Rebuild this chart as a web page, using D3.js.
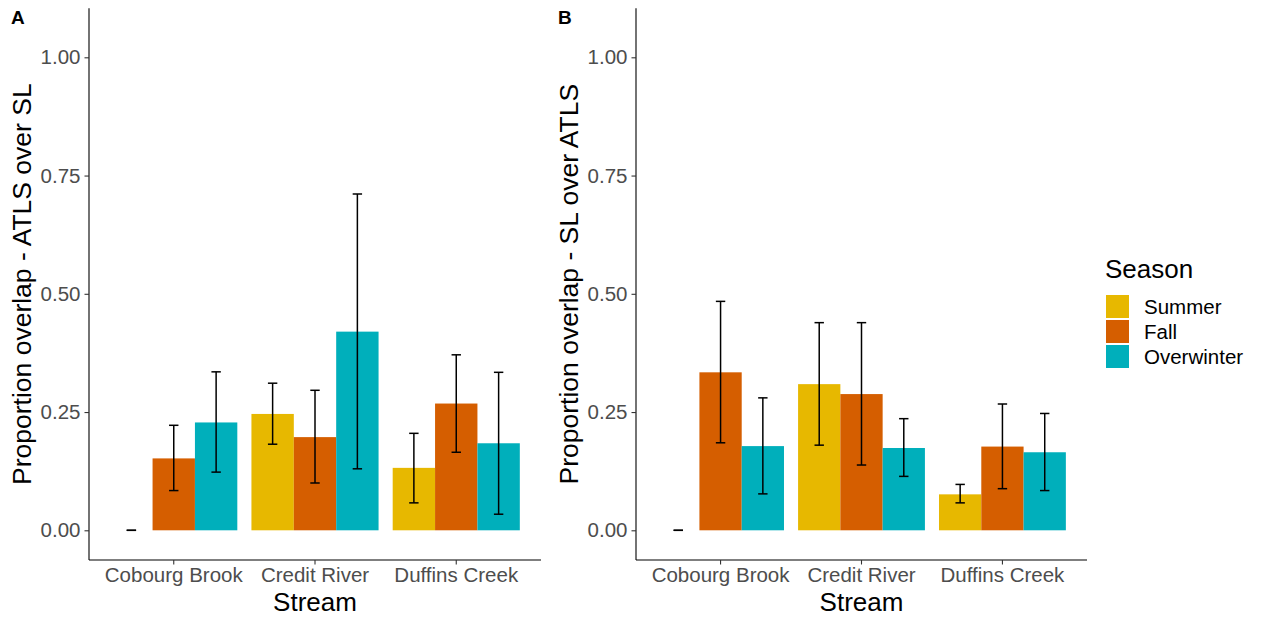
<!DOCTYPE html>
<html>
<head>
<meta charset="utf-8">
<script src="https://cdn.jsdelivr.net/npm/d3@7"></script>
<style>
  body { margin: 0; background: #fff; }
  svg { font-family: "Liberation Sans", Arial, sans-serif; }
</style>
</head>
<body>
<div id="chart"></div>
<script>
const streams = ['Cobourg Brook', 'Credit River', 'Duffins Creek'];
const seasons = ['Summer', 'Fall', 'Overwinter'];
const seasonColors = ['#E7B800', '#D55E00', '#00AFBB'];

// panel A: ATLS over SL  (rows = stream, cols = season)
const meanA = [[0, 0.152, 0.228], [0.246, 0.197, 0.420], [0.132, 0.268, 0.184]];
const lowA  = [[0, 0.084, 0.123], [0.182, 0.100, 0.130], [0.058, 0.165, 0.034]];
const highA = [[0, 0.222, 0.335], [0.311, 0.296, 0.711], [0.205, 0.371, 0.334]];

// panel B: SL over ATLS
const meanB = [[0, 0.334, 0.178], [0.309, 0.288, 0.174], [0.076, 0.177, 0.165]];
const lowB  = [[0, 0.185, 0.077], [0.180, 0.138, 0.114], [0.058, 0.088, 0.084]];
const highB = [[0, 0.484, 0.280], [0.439, 0.439, 0.236], [0.097, 0.267, 0.247]];

const yTicks = [0, 0.25, 0.5, 0.75, 1];

const W = 1262, H = 618;
const svg = d3.select('#chart').append('svg')
  .attr('width', W).attr('height', H);

const panels = [
  {tag: 'A', x0: 89, x1: 541, mean: meanA, low: lowA, high: highA,
   ytitle: 'Proportion overlap - ATLS over SL'},
  {tag: 'B', x0: 636, x1: 1087, mean: meanB, low: lowB, high: highB,
   ytitle: 'Proportion overlap - SL over ATLS'}
];

const yTop = 8.3, yBottom = 560;

panels.forEach(p => {
  const g = svg.append('g');
  const y = d3.scaleLinear().domain([-0.0628, 1.1036]).range([yBottom, yTop]);
  const x = d3.scaleBand().domain(streams).range([p.x0, p.x1])
    .paddingInner(0.1).paddingOuter(0.15);
  const xs = d3.scaleBand().domain(seasons).range([0, x.bandwidth()]);

  const rows = [];
  streams.forEach((s, i) => seasons.forEach((se, j) => {
    rows.push({stream: s, season: se, j: j,
      v: p.mean[i][j], lo: p.low[i][j], hi: p.high[i][j]});
  }));

  // bars
  g.selectAll('rect.bar').data(rows.filter(d => d.v > 0)).enter()
    .append('rect').attr('class', 'bar')
    .attr('x', d => x(d.stream) + xs(d.season))
    .attr('width', xs.bandwidth())
    .attr('y', d => y(d.v))
    .attr('height', d => y(0) - y(d.v))
    .attr('fill', d => seasonColors[d.j]);

  // error bars
  const cap = 4.7;
  const eb = g.selectAll('g.eb').data(rows).enter().append('g')
    .attr('stroke', '#000').attr('stroke-width', 1.5)
    .attr('transform', d => `translate(${x(d.stream) + xs(d.season) + xs.bandwidth() / 2},0)`);
  eb.append('line').attr('x1', 0).attr('x2', 0)
    .attr('y1', d => y(d.lo)).attr('y2', d => y(d.hi));
  eb.append('line').attr('x1', -cap).attr('x2', cap)
    .attr('y1', d => y(d.lo)).attr('y2', d => y(d.lo));
  eb.append('line').attr('x1', -cap).attr('x2', cap)
    .attr('y1', d => y(d.hi)).attr('y2', d => y(d.hi));

  // axes
  const ya = g.append('g').attr('transform', `translate(${p.x0},0)`)
    .call(d3.axisLeft(y).tickValues(yTicks).tickFormat(d3.format('.2f')).tickSize(4.5).tickPadding(4));
  ya.select('.domain').attr('d', `M0,${yTop}V${yBottom}`).attr('stroke', '#000').attr('stroke-width', 1.1);
  ya.selectAll('.tick line').attr('stroke', '#333').attr('stroke-width', 1.1);
  ya.selectAll('.tick text').attr('fill', '#4D4D4D').attr('font-size', 20.5)
    .attr('font-family', '"Liberation Sans", Arial, sans-serif');

  const xa = g.append('g').attr('transform', `translate(0,${yBottom})`)
    .call(d3.axisBottom(x).tickSize(4.5).tickPadding(3));
  xa.select('.domain').attr('d', `M${p.x0},0H${p.x1}`).attr('stroke', '#000').attr('stroke-width', 1.1);
  xa.selectAll('.tick line').attr('stroke', '#333').attr('stroke-width', 1.1);
  xa.selectAll('.tick text').attr('fill', '#4D4D4D').attr('font-size', 20.5)
    .attr('font-family', '"Liberation Sans", Arial, sans-serif');

  // titles
  g.append('text').attr('x', (p.x0 + p.x1) / 2).attr('y', 611)
    .attr('text-anchor', 'middle').attr('font-size', 26).attr('fill', '#000')
    .text('Stream');
  g.append('text')
    .attr('transform', `translate(${p.x0 - 58},${(yTop + yBottom) / 2}) rotate(-90)`)
    .attr('text-anchor', 'middle').attr('font-size', 26.5).attr('fill', '#000')
    .text(p.ytitle);
  g.append('text').attr('x', p.x0 - 78).attr('y', 23.5)
    .attr('font-size', 19).attr('font-weight', 'bold').attr('fill', '#000')
    .text(p.tag);
});

// legend
const lg = svg.append('g').attr('transform', 'translate(1106,0)');
lg.append('text').attr('x', -1).attr('y', 277.5).attr('font-size', 26).attr('fill', '#000')
  .text('Season');
const item = lg.selectAll('g.item').data(seasons).enter().append('g')
  .attr('transform', (d, i) => `translate(0,${295 + i * 25})`);
item.append('rect').attr('width', 23).attr('height', 23)
  .attr('fill', (d, i) => seasonColors[i]);
item.append('text').attr('x', 38).attr('y', 19).attr('font-size', 20.5).attr('fill', '#000')
  .text(d => d);
</script>
</body>
</html>
